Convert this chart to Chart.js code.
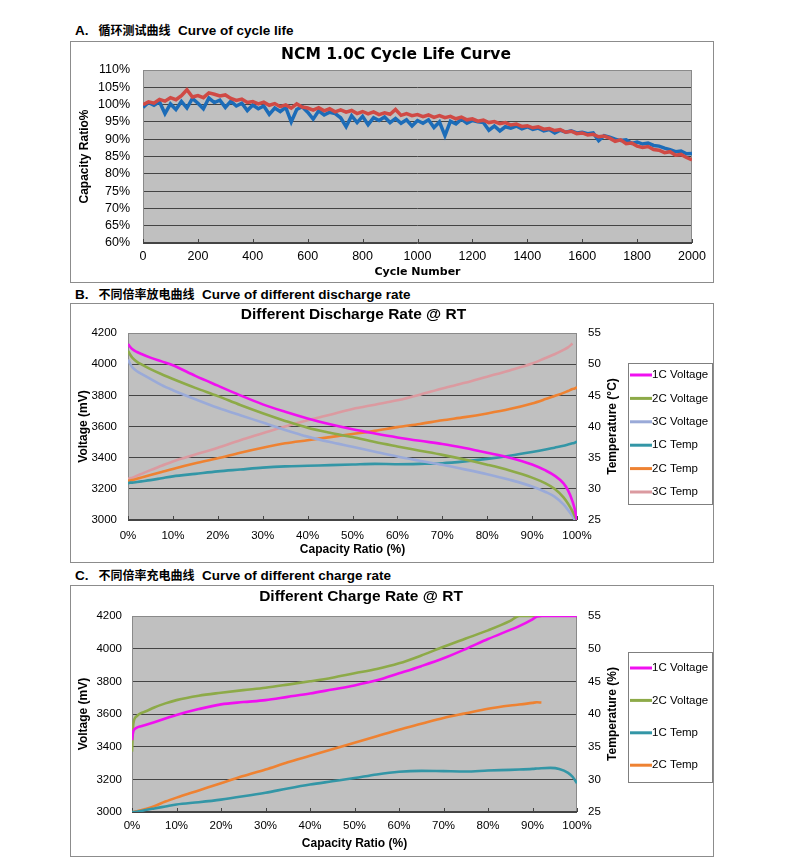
<!DOCTYPE html>
<html>
<head>
<meta charset="utf-8">
<script src="https://cdn.jsdelivr.net/npm/chart.js@4.4.0/dist/chart.umd.min.js"></script>
<style>
  body { margin: 0; background: #fff; width: 800px; height: 860px; position: relative; overflow: hidden;
         font-family: 'Liberation Sans', Arial, sans-serif; }
  .cap { position: absolute; left: 75px; font-weight: bold; font-size: 13.5px; line-height: 16px; color: #000; white-space: nowrap; }
  .cap .zh { font-family: 'Noto Sans CJK SC', sans-serif; font-size: 12px; margin-left: 10px; }
  .box { position: absolute; left: 70px; width: 642px; border: 1px solid #8c8c8c; }
  .box canvas { display: block; }
</style>
</head>
<body>
<div class="cap" style="top:22px">A.<span class="zh">循环测试曲线</span> &nbsp;Curve of cycle life</div>
<div class="box" style="top:41px;height:240px"><canvas id="cycle" width="642" height="240"></canvas></div>

<div class="cap" style="top:286px">B.<span class="zh">不同倍率放电曲线</span> &nbsp;Curve of different discharge rate</div>
<div class="box" style="top:303px;height:258px"><canvas id="discharge" width="642" height="258"></canvas></div>

<div class="cap" style="top:567px">C.<span class="zh">不同倍率充电曲线</span> &nbsp;Curve of different charge rate</div>
<div class="box" style="top:585px;height:270px"><canvas id="charge" width="642" height="270"></canvas></div>

<script>
// ---- A. cycle life (capacity %, one point every 20 cycles) ----
const cycles = [
  0, 20, 40, 60, 80, 100, 120, 140, 160, 180,
  200, 220, 240, 260, 280, 300, 320, 340, 360, 380,
  400, 420, 440, 460, 480, 500, 520, 540, 560, 580,
  600, 620, 640, 660, 680, 700, 720, 740, 760, 780,
  800, 820, 840, 860, 880, 900, 920, 940, 960, 980,
  1000, 1020, 1040, 1060, 1080, 1100, 1120, 1140, 1160, 1180,
  1200, 1220, 1240, 1260, 1280, 1300, 1320, 1340, 1360, 1380,
  1400, 1420, 1440, 1460, 1480, 1500, 1520, 1540, 1560, 1580,
  1600, 1620, 1640, 1660, 1680, 1700, 1720, 1740, 1760, 1780,
  1800, 1820, 1840, 1860, 1880, 1900, 1920, 1940, 1960, 1980,
  2000
];
const capBlue = [
  99.2, 100.6, 99.8, 100.8, 97.4, 100.2, 98.6, 100.9, 99.0, 101.8,
  100.4, 98.8, 101.9, 100.6, 101.3, 99.2, 101.0, 99.6, 100.4, 98.3,
  99.9, 98.8, 99.6, 97.2, 99.0, 98.0, 99.2, 95.0, 98.6, 99.4,
  97.8, 95.8, 98.2, 97.0, 97.8, 97.4, 96.2, 93.6, 96.8, 94.8,
  96.6, 94.2, 96.2, 95.4, 96.4, 94.8, 96.0, 94.6, 95.6, 93.8,
  95.4, 94.6, 95.6, 93.4, 95.0, 91.0, 95.2, 94.4, 95.8, 94.6,
  95.4, 95.0, 94.8, 92.6, 93.8, 92.4, 93.6, 93.2, 93.8, 93.0,
  93.6, 92.8, 93.2, 92.4, 92.8, 91.8, 92.6, 92.0, 92.4, 91.8,
  92.0, 91.6, 91.8, 89.6, 91.0, 90.6, 90.0, 89.6, 89.8, 88.8,
  89.2, 88.6, 88.9, 88.2, 88.0, 87.4, 87.0, 86.4, 86.6, 85.8,
  85.9
];
const capRed = [
  100.0, 100.8, 100.4, 101.5, 101.0, 102.0, 101.4, 102.6, 104.3, 102.2,
  102.6, 102.0, 103.4, 103.0, 102.5, 102.8, 101.8, 101.2, 101.6, 100.6,
  100.9, 100.2, 100.7, 99.8, 100.3, 99.4, 99.9, 99.0, 100.2, 99.3,
  99.0, 98.4, 99.1, 98.2, 98.8, 97.9, 98.5, 97.8, 98.3, 97.4,
  98.0, 97.3, 97.9, 97.1, 97.6, 97.2, 98.6, 96.9, 97.4, 96.8,
  97.1, 96.5, 97.0, 96.3, 96.8, 96.2, 96.6, 95.9, 96.4, 95.6,
  95.9, 95.2, 95.5, 94.8, 95.1, 94.5, 94.8, 94.1, 94.4, 93.7,
  93.9, 93.3, 93.6, 92.9, 93.1, 92.5, 92.8, 92.0, 92.3, 91.6,
  91.8, 91.2, 91.4, 90.7, 90.9, 90.3, 89.4, 89.8, 88.7, 88.9,
  88.0, 87.6, 87.9, 87.0, 86.8, 86.1, 86.4, 85.4, 85.6, 84.7,
  84.0
];

// ---- B. discharge (capacity %, voltage mV, temperature °C) ----
const ratioB = [0, 0.5, 1, 2, 3, 5, 7.5, 10, 15, 20, 25, 30, 35, 40, 45, 50, 55, 60, 65, 70, 75, 80, 85, 90, 93, 95, 97, 98, 99, 99.5, 100];
const volt1C_B = [4130, 4110, 4095, 4078, 4065, 4042, 4018, 3993, 3925, 3862, 3800, 3742, 3695, 3652, 3614, 3582, 3555, 3530, 3508, 3488, 3462, 3432, 3400, 3356, 3318, 3285, 3235, 3190, 3120, 3070, 3000];
const volt2C_B = [4085, 4060, 4040, 4015, 3998, 3968, 3935, 3905, 3848, 3795, 3738, 3685, 3636, 3592, 3560, 3532, 3500, 3472, 3445, 3418, 3388, 3355, 3318, 3272, 3235, 3200, 3145, 3105, 3055, 3025, 3000];
const volt3C_B = [4030, 4000, 3980, 3955, 3938, 3905, 3865, 3833, 3775, 3720, 3672, 3626, 3578, 3535, 3500, 3470, 3438, 3407, 3380, 3354, 3325, 3294, 3258, 3215, 3180, 3150, 3100, 3065, 3025, 3000, null];
const temp1C_B = [30.9, 31.0, 31.0, 31.1, 31.2, 31.4, 31.7, 32.0, 32.4, 32.8, 33.1, 33.4, 33.6, 33.7, 33.8, 33.9, 34.0, 33.95, 34.0, 34.1, 34.4, 34.8, 35.3, 35.9, 36.3, 36.6, 36.9, 37.1, 37.3, 37.4, 37.6];
const temp2C_B = [31.3, 31.35, 31.4, 31.6, 31.8, 32.2, 32.7, 33.2, 34.1, 34.9, 35.8, 36.6, 37.3, 37.8, 38.3, 38.8, 39.3, 39.9, 40.4, 41.0, 41.5, 42.1, 42.8, 43.7, 44.4, 44.9, 45.4, 45.7, 46.0, 46.1, 46.3];
const temp3C_B = [31.6, 31.7, 31.8, 32.1, 32.4, 33.0, 33.7, 34.4, 35.5, 36.6, 37.8, 38.9, 40.0, 41.0, 41.9, 42.8, 43.5, 44.2, 45.1, 46.1, 47.0, 48.0, 49.0, 50.1, 51.0, 51.6, 52.3, 52.7, 53.3, null, null];

// ---- C. charge ----
const ratioC = [0, 0.3, 1, 2, 3, 5, 7.5, 10, 15, 20, 25, 30, 35, 40, 45, 50, 55, 60, 65, 70, 75, 80, 85, 87, 90, 91, 92, 94, 96, 98, 99, 100];
const volt1C_C = [3440, 3495, 3515, 3525, 3533, 3550, 3572, 3594, 3630, 3659, 3673, 3685, 3705, 3725, 3750, 3775, 3806, 3849, 3893, 3941, 3998, 4059, 4115, 4138, 4180, 4196, 4200, 4200, 4200, 4200, 4200, 4200];
const volt2C_C = [3370, 3540, 3585, 3605, 3615, 3640, 3665, 3685, 3712, 3730, 3746, 3761, 3780, 3800, 3822, 3849, 3875, 3910, 3958, 4012, 4062, 4112, 4170, 4200, 4200, 4200, 4200, null, null, null, null, null];
const temp1C_C = [25.0, 25.0, 25.05, 25.15, 25.3, 25.55, 25.85, 26.15, 26.5, 26.9, 27.4, 27.95, 28.6, 29.2, 29.7, 30.2, 30.75, 31.15, 31.3, 31.25, 31.2, 31.35, 31.45, 31.5, 31.6, 31.65, 31.7, 31.75, 31.6, 31.0, 30.4, 29.4];
const temp2C_C = [25.0, 25.0, 25.1, 25.25, 25.45, 25.9, 26.6, 27.2, 28.3, 29.4, 30.5, 31.5, 32.6, 33.6, 34.6, 35.6, 36.6, 37.6, 38.5, 39.4, 40.1, 40.8, 41.3, 41.45, 41.7, 41.8, 41.75, null, null, null, null, null];

const COLORS = {
  blue: '#1C6CB8', red: '#D04A45',
  v1: '#F010F0', v2: '#8DAA48', v3: '#9AAAD8',
  t1: '#3396A6', t2: '#EE8232', t3: '#DB9AA0'
};

Chart.defaults.font.family = "'Liberation Sans', Arial, sans-serif";
Chart.defaults.color = '#000';

const pts = (xs, ys) => xs.map((x, i) => ({ x: x, y: ys[i] }));

// grey plot area, frame and small inside tick marks on the x axis
const framePlugin = {
  id: 'frame',
  beforeDraw(chart) {
    const { ctx, chartArea: a } = chart;
    ctx.save();
    ctx.fillStyle = '#c0c0c0';
    ctx.fillRect(a.left, a.top, a.right - a.left, a.bottom - a.top);
    ctx.restore();
  },
  beforeDatasetsDraw(chart) {
    const { ctx, chartArea: a, scales } = chart;
    const x = scales.x;
    ctx.save();
    ctx.lineWidth = 1;
    ctx.strokeStyle = '#8a8a8a';
    ctx.strokeRect(a.left + 0.5, a.top + 0.5, a.right - a.left - 1, a.bottom - a.top - 1);
    ctx.strokeStyle = '#444';
    ctx.beginPath();
    ctx.moveTo(a.left, a.bottom - 0.5);
    ctx.lineTo(a.right, a.bottom - 0.5);
    x.ticks.forEach(t => {
      const px = Math.round(x.getPixelForValue(t.value)) + 0.5;
      ctx.moveTo(px, a.bottom);
      ctx.lineTo(px, a.bottom - 4);
    });
    ctx.stroke();
    ctx.restore();
  }
};

// chart heading at a fixed centre (the original is not centred on the plot)
const heading = {
  id: 'heading',
  afterDraw(chart, args, o) {
    if (!o.text) return;
    const ctx = chart.ctx;
    ctx.save();
    ctx.font = o.font;
    ctx.textAlign = 'center';
    ctx.textBaseline = 'middle';
    ctx.fillStyle = '#000';
    ctx.fillText(o.text, o.x, o.y);
    ctx.restore();
  }
};

// right axis title reads bottom-to-top like the left one
const sideTitle = {
  id: 'sideTitle',
  afterDraw(chart, args, o) {
    if (!o.text) return;
    const { ctx, chartArea: a } = chart;
    ctx.save();
    ctx.translate(o.x, (a.top + a.bottom) / 2);
    ctx.rotate(-Math.PI / 2);
    ctx.font = "bold 12px 'Liberation Sans', Arial, sans-serif";
    ctx.textAlign = 'center';
    ctx.textBaseline = 'middle';
    ctx.fillStyle = '#000';
    ctx.fillText(o.text, 0, 0);
    ctx.restore();
  }
};

// framed legend at the right, line sample then label
const boxLegend = {
  id: 'boxLegend',
  afterDraw(chart, args, o) {
    if (!o.box) return;
    const ctx = chart.ctx;
    ctx.save();
    ctx.strokeStyle = '#7f7f7f';
    ctx.lineWidth = 1;
    ctx.strokeRect(o.box[0] + 0.5, o.box[1] + 0.5, o.box[2], o.box[3]);
    ctx.font = "11.5px 'Liberation Sans', Arial, sans-serif";
    ctx.textBaseline = 'middle';
    chart.data.datasets.forEach((ds, i) => {
      const y = o.firstY + i * o.step;
      ctx.strokeStyle = ds.borderColor;
      ctx.lineWidth = 3;
      ctx.beginPath();
      ctx.moveTo(o.lineX[0], y);
      ctx.lineTo(o.lineX[1], y);
      ctx.stroke();
      ctx.fillStyle = '#000';
      ctx.fillText(ds.label, o.lineX[1], y);
    });
    ctx.restore();
  }
};

const plain = v => String(v);

// 1. Cycle life
new Chart(document.getElementById('cycle'), {
  type: 'line',
  data: {
    datasets: [
      { label: 'Blue cell', data: pts(cycles, capBlue), borderColor: COLORS.blue, borderWidth: 3.5, pointRadius: 0, tension: 0, order: 2 },
      { label: 'Red cell', data: pts(cycles, capRed), borderColor: COLORS.red, borderWidth: 3.5, pointRadius: 0, tension: 0, order: 1 }
    ]
  },
  options: {
    responsive: false,
    animation: false,
    layout: { padding: { left: 0, right: 21, top: 28, bottom: 0 } },
    plugins: {
      legend: { display: false },
      tooltip: { enabled: false },
      heading: { text: 'NCM 1.0C Cycle Life Curve', x: 325, y: 13, font: "bold 15.5px 'DejaVu Sans', sans-serif" }
    },
    scales: {
      x: {
        type: 'linear', min: 0, max: 2000,
        ticks: { stepSize: 200, padding: 6, font: { size: 12.5 }, maxRotation: 0, autoSkip: false, callback: plain },
        grid: { display: false, drawTicks: false },
        border: { display: false },
        title: { display: true, text: 'Cycle Number', font: { family: 'DejaVu Sans', size: 11, weight: 'bold' }, padding: { top: 0, bottom: 3.4 } },
        afterFit: s => { s.height = 39; }
      },
      y: {
        min: 60, max: 110,
        ticks: { stepSize: 5, padding: 13, font: { size: 12.5 }, autoSkip: false, callback: v => v + '%' },
        grid: { color: '#444', drawTicks: false },
        border: { display: false },
        title: { display: true, text: 'Capacity Ratio%', font: { size: 12, weight: 'bold' }, padding: { top: 6 } },
        afterFit: s => { s.width = 72; }
      }
    }
  },
  plugins: [framePlugin, heading]
});

function rateScales(xHeight, yWidth, yPad, xPad) {
  return {
    x: {
      type: 'linear', min: 0, max: 100,
      ticks: { stepSize: 10, padding: xPad, font: { size: 11.5 }, maxRotation: 0, autoSkip: false, callback: v => v + '%' },
      grid: { display: false, drawTicks: false },
      border: { display: false },
      title: { display: true, text: 'Capacity Ratio (%)', font: { size: 12, weight: 'bold' }, padding: { top: 0, bottom: 4.8 } },
      afterFit: s => { s.height = xHeight; }
    },
    y: {
      min: 3000, max: 4200,
      ticks: { stepSize: 200, padding: yPad, font: { size: 11.5 }, autoSkip: false, callback: plain },
      grid: { color: '#444', drawTicks: false },
      border: { display: false },
      title: { display: true, text: 'Voltage (mV)', font: { size: 12, weight: 'bold' }, padding: { top: 5.8 } },
      afterFit: s => { s.width = yWidth; }
    },
    y2: {
      position: 'right', min: 25, max: 55,
      ticks: { stepSize: 5, padding: 11, font: { size: 11.5 }, autoSkip: false, callback: plain },
      grid: { display: false, drawTicks: false },
      border: { display: false },
      afterFit: s => { s.width = 40; }
    }
  };
}

const lineDs = (label, xs, ys, color, axis) => ({
  label: label, data: pts(xs, ys), borderColor: color, backgroundColor: color, yAxisID: axis,
  borderWidth: 2.6, pointRadius: 0, cubicInterpolationMode: 'monotone'
});

// 2. Discharge
new Chart(document.getElementById('discharge'), {
  type: 'line',
  data: {
    datasets: [
      lineDs('1C Voltage', ratioB, volt1C_B, COLORS.v1, 'y'),
      lineDs('2C Voltage', ratioB, volt2C_B, COLORS.v2, 'y'),
      lineDs('3C Voltage', ratioB, volt3C_B, COLORS.v3, 'y'),
      lineDs('1C Temp', ratioB, temp1C_B, COLORS.t1, 'y2'),
      lineDs('2C Temp', ratioB, temp2C_B, COLORS.t2, 'y2'),
      lineDs('3C Temp', ratioB, temp3C_B, COLORS.t3, 'y2')
    ]
  },
  options: {
    responsive: false,
    animation: false,
    layout: { padding: { left: 0, right: 96, top: 29, bottom: 0 } },
    plugins: {
      legend: { display: false },
      tooltip: { enabled: false },
      heading: { text: 'Different Discharge Rate @ RT', x: 282.5, y: 11, font: "bold 15.5px 'Liberation Sans', Arial, sans-serif" },
      sideTitle: { text: 'Temperature (\u00B0C)', x: 542 },
      boxLegend: { box: [557, 59, 84, 141], firstY: 71, step: 23.4, lineX: [559, 581] }
    },
    scales: rateScales(42, 57, 11, 9)
  },
  plugins: [framePlugin, heading, sideTitle, boxLegend]
});

// 3. Charge
new Chart(document.getElementById('charge'), {
  type: 'line',
  data: {
    datasets: [
      lineDs('1C Voltage', ratioC, volt1C_C, COLORS.v1, 'y'),
      lineDs('2C Voltage', ratioC, volt2C_C, COLORS.v2, 'y'),
      lineDs('1C Temp', ratioC, temp1C_C, COLORS.t1, 'y2'),
      lineDs('2C Temp', ratioC, temp2C_C, COLORS.t2, 'y2')
    ]
  },
  options: {
    responsive: false,
    animation: false,
    layout: { padding: { left: 0, right: 96, top: 30, bottom: 0 } },
    plugins: {
      legend: { display: false },
      tooltip: { enabled: false },
      heading: { text: 'Different Charge Rate @ RT', x: 290, y: 11, font: "bold 15.5px 'Liberation Sans', Arial, sans-serif" },
      sideTitle: { text: 'Temperature (%)', x: 542 },
      boxLegend: { box: [557, 66, 84, 130], firstY: 82, step: 32.4, lineX: [559, 581] }
    },
    scales: rateScales(44, 61, 10, 7)
  },
  plugins: [framePlugin, heading, sideTitle, boxLegend]
});
</script>
</body>
</html>
